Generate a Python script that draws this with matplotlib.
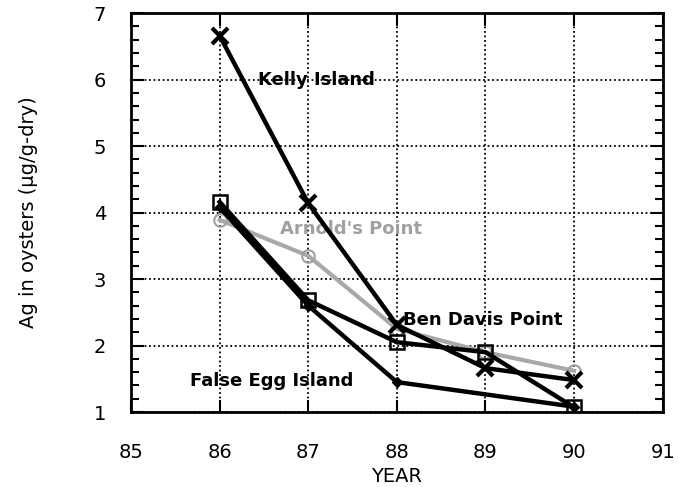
import matplotlib
matplotlib.use("Agg")
from matplotlib import pyplot as plt
from matplotlib.ticker import MultipleLocator

# data
years = [86, 87, 88, 89, 90]
kelly = [6.66, 4.14, 2.31, 1.66, 1.48]
ben_davis = [4.16, 2.68, 2.05, 1.90, 1.07]
false_egg_years = [86, 87, 88, 90]
false_egg = [4.08, 2.60, 1.45, 1.08]
arnolds = [3.89, 3.35, 2.25, 1.90, 1.62]

x_ticks = [85, 86, 87, 88, 89, 90, 91]
y_ticks = [1, 2, 3, 4, 5, 6, 7]

fig = plt.figure(figsize=(6.79, 4.87), dpi=100)
ax = fig.add_axes([0.193, 0.154, 0.783, 0.819])

ax.plot(years, arnolds, color='#a8a8a8', lw=3, marker='o', ms=9,
        mfc='none', mec='#a0a0a0', mew=1.5, zorder=3)
ax.plot(years, kelly, color='black', lw=3.2, marker='x', ms=11, mew=3, zorder=4)
ax.plot(years, ben_davis, color='black', lw=3.2, marker='s', ms=10,
        mfc='none', mec='black', mew=1.8, zorder=4)
ax.plot(false_egg_years, false_egg, color='black', lw=3.2, marker='D', ms=5, zorder=4)

txt = dict(fontsize=13, fontweight='bold', va='center', ha='left')
ax.text(86.43, 6.0, "Kelly Island", color='black', **txt)
ax.text(86.68, 3.75, "Arnold's Point", color='#a0a0a0', **txt)
ax.text(88.07, 2.38, "Ben Davis Point", color='black', **txt)
ax.text(85.67, 1.47, "False Egg Island", color='black', **txt)

ax.set_xlim(85, 91)
ax.set_ylim(1, 7)
ax.set_xticks(x_ticks)
ax.set_yticks(y_ticks)
ax.yaxis.set_minor_locator(MultipleLocator(0.2))

ax.grid(True, which='major', color='black', linestyle=(0, (1, 1.5)), lw=1.3)
ax.tick_params(axis='both', which='major', direction='in', length=9, width=1.5,
               top=True, right=True, labelsize=14, colors='black')
ax.tick_params(axis='x', which='major', pad=22)
ax.tick_params(axis='y', which='major', pad=18)
ax.tick_params(axis='y', which='minor', direction='in', length=6, width=1.5,
               left=True, right=True)
for s in ax.spines.values():
    s.set_linewidth(2)

ax.set_xlabel("YEAR", fontsize=14, labelpad=4)
ax.set_ylabel("Ag in oysters (\u00b5g/g-dry)", fontsize=14, labelpad=40)

fig.savefig("out.png", dpi=100)
